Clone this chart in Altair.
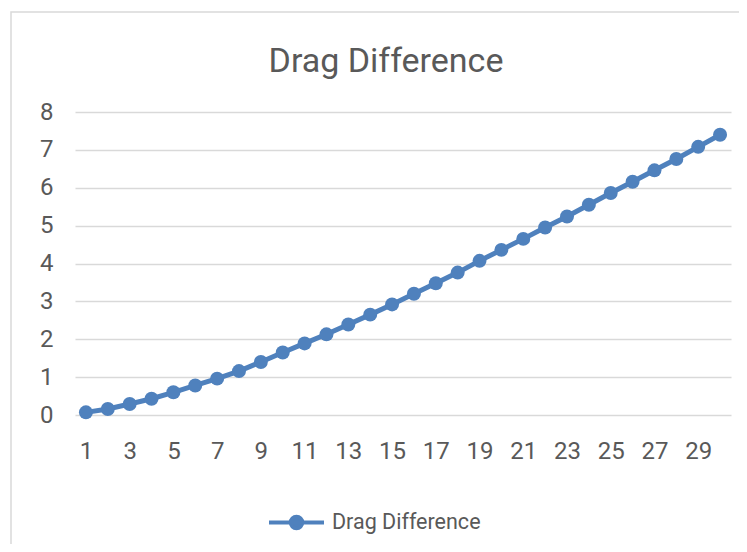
import altair as alt
import pandas as pd

categories = list(range(1, 31))
drag_difference = [0.07, 0.16, 0.29, 0.43, 0.60, 0.78, 0.96, 1.16, 1.40, 1.65,
                   1.89, 2.13, 2.39, 2.65, 2.92, 3.20, 3.48, 3.76, 4.07, 4.36,
                   4.65, 4.95, 5.24, 5.55, 5.86, 6.16, 6.46, 6.76, 7.08, 7.40]
series_name = "Drag Difference"
chart_title = "Drag Difference"
x_tick_labels = list(range(1, 31, 2))
y_ticks = list(range(0, 9))

df = pd.DataFrame({"x": categories, "y": drag_difference, "series": series_name})

FONT = "Roboto"
BLUE = "#4f81bd"
GREY = "#595959"

legend_symbol = "M-1,0L1,0M0,-0.21A0.21,0.21 0 1,1 0,0.21A0.21,0.21 0 1,1 0,-0.21Z"

base = alt.Chart(df).encode(
    x=alt.X("x:O", scale=alt.Scale(type="point", padding=0.5),
            axis=alt.Axis(values=x_tick_labels, labelAngle=0, title=None, ticks=False,
                          domain=False, labelPadding=24, labelFontSize=24,
                          labelColor=GREY, labelFont=FONT, grid=False)),
    y=alt.Y("y:Q", scale=alt.Scale(domain=[0, 8], nice=False),
            axis=alt.Axis(values=y_ticks, title=None, ticks=False, domain=False,
                          labelPadding=22, labelFontSize=24, labelColor=GREY,
                          labelFont=FONT, gridColor="#d9d9d9", gridWidth=1.5)),
    color=alt.Color("series:N", scale=alt.Scale(range=[BLUE]),
                    legend=alt.Legend(title=None, orient="none", legendX=192, legendY=381,
                                      symbolType=legend_symbol, symbolSize=3025,
                                      symbolStrokeWidth=4, symbolFillColor=BLUE,
                                      labelFontSize=21.5, labelFont=FONT, labelColor=GREY,
                                      labelOffset=6, padding=0)),
)

line = base.mark_line(strokeWidth=5)
points = base.mark_circle(size=195, opacity=1)

border = alt.Chart(alt.Data(values=[{}])).mark_rect(
    fillOpacity=0, stroke="#d9d9d9", strokeWidth=1.5
).encode(x=alt.value(-64), x2=alt.value(900), y=alt.value(-100), y2=alt.value(700))

title = alt.Chart(alt.Data(values=[{}])).mark_text(
    font=FONT, fontSize=34, color=GREY, align="center", baseline="alphabetic"
).encode(text=alt.value(chart_title), x=alt.value(311), y=alt.value(-40))

chart = alt.layer(border, line, points, title).properties(
    width=656, height=303,
    autosize=alt.AutoSizeParams(type="none"),
    padding={"left": 67, "top": 104, "right": 8, "bottom": 129},
).configure_view(stroke=None)

chart.save("out.html", embed_options={"renderer": "svg", "actions": False})
